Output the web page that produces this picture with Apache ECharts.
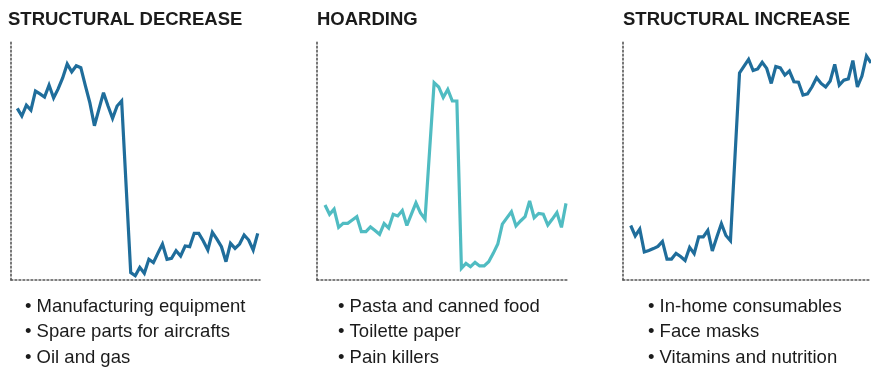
<!DOCTYPE html>
<html>
<head>
<meta charset="utf-8">
<script src="https://cdn.jsdelivr.net/npm/echarts@6/dist/echarts.min.js"></script>
<style>
html,body{margin:0;padding:0;background:#fff;}
#chart{width:871px;height:369px;}
</style>
</head>
<body>
<div id="chart"></div>
<script>
// Panel titles
var titles = ['STRUCTURAL DECREASE', 'HOARDING', 'STRUCTURAL INCREASE'];

// Bullet lists under each panel
var bulletsDecrease = ['Manufacturing equipment', 'Spare parts for aircrafts', 'Oil and gas'];
var bulletsHoarding = ['Pasta and canned food', 'Toilette paper', 'Pain killers'];
var bulletsIncrease = ['In-home consumables', 'Face masks', 'Vitamins and nutrition'];

// Demand index (0-100), weekly
var decreaseValues = [72.1, 68.9, 73.5, 71.4, 79.4, 78.2, 76.9, 81.9, 76.5, 80.3,
  84.9, 90.8, 87.5, 90.0, 89.2, 81.7, 74.4, 64.8, 71.8, 78.7,
  73.1, 67.9, 73.1, 75.2, 39.1, 3.1, 1.8, 5.3, 2.8, 8.7,
  7.3, 11.3, 15.1, 8.7, 9.1, 12.3, 10.1, 14.3, 14.0, 19.6,
  19.6, 16.4, 12.6, 20.0, 17.2, 14.0, 7.7, 15.4, 13.3, 15.1,
  18.9, 16.8, 12.6, 19.6];

var hoardingValues = [31.5, 27.6, 29.8, 22.1, 23.8, 23.8, 25.2, 26.6, 20.3, 20.3,
  22.3, 20.8, 19.2, 23.7, 21.8, 27.6, 26.9, 29.2, 22.9, 27.7,
  32.4, 28.2, 25.6, 54.3, 82.9, 81.1, 76.7, 80.1, 75.2, 75.2,
  4.9, 7.0, 5.6, 7.4, 5.9, 5.9, 7.7, 11.2, 15.1, 23.5,
  26.1, 28.7, 22.7, 24.8, 26.6, 33.2, 26.2, 28.0, 27.7, 23.1,
  25.6, 28.3, 22.1, 32.2];

var increaseValues = [22.9, 18.5, 21.4, 11.8, 12.4, 13.2, 14.1, 16.2, 8.8, 8.8,
  11.2, 9.9, 8.2, 13.7, 11.1, 18.1, 18.1, 20.8, 12.2, 18.1,
  23.7, 18.7, 16.5, 51.9, 87.0, 89.9, 92.7, 88.0, 88.7, 91.5,
  88.9, 82.6, 89.7, 89.1, 86.1, 87.8, 83.3, 83.1, 77.7, 78.2,
  81.2, 85.0, 82.6, 81.1, 83.6, 90.6, 81.9, 84.0, 84.5, 92.2,
  81.1, 85.7, 94.1, 91.2];

var BLUE = '#1f6d9b';
var TEAL = '#50bcc2';
var INK = '#1b1b1b';
var AXIS = '#555555';

function toPairs(arr) { return arr.map(function (v, i) { return [i, v]; }); }

var panels = [
  { values: decreaseValues, color: BLUE, left: 11, width: 249, xmin: -1.39, xmax: 53.5, titleX: 8, bulletX: 25, bullets: bulletsDecrease },
  { values: hoardingValues, color: TEAL, left: 317, width: 250, xmin: -1.76, xmax: 53.22, titleX: 317, bulletX: 338, bullets: bulletsHoarding },
  { values: increaseValues, color: BLUE, left: 623, width: 248.3, xmin: -1.7, xmax: 53, titleX: 623, bulletX: 648, bullets: bulletsIncrease }
];

var dotted = { color: AXIS, width: 1.6, type: [1.8, 2.2] };

var grid = [], xAxis = [], yAxis = [], series = [], graphic = [];
panels.forEach(function (p, k) {
  grid.push({ left: p.left, top: 42, width: p.width, height: 238 });
  xAxis.push({
    type: 'value', gridIndex: k, min: p.xmin, max: p.xmax,
    axisLine: { show: true, onZero: false, lineStyle: dotted },
    axisTick: { show: false }, axisLabel: { show: false }, splitLine: { show: false }
  });
  yAxis.push({
    type: 'value', gridIndex: k, min: 0, max: 100,
    axisLine: { show: true, onZero: false, lineStyle: dotted },
    axisTick: { show: false }, axisLabel: { show: false }, splitLine: { show: false }
  });
  series.push({
    type: 'line', xAxisIndex: k, yAxisIndex: k, data: toPairs(p.values),
    symbol: 'none', smooth: false,
    lineStyle: { color: p.color, width: 3.2, join: 'miter', miterLimit: 3 }
  });
  graphic.push({
    type: 'text', left: p.titleX, top: 10,
    style: { text: titles[k], font: 'bold 18.5px "Liberation Sans", Arial, sans-serif', fill: INK }
  });
  p.bullets.forEach(function (b, j) {
    graphic.push({
      type: 'text', left: p.bulletX, top: 297 + j * 25.5,
      style: { text: '\u2022 ' + b, font: '18.5px "Liberation Sans", Arial, sans-serif', fill: INK }
    });
  });
});

var chart = echarts.init(document.getElementById('chart'), null, { renderer: 'canvas' });
chart.setOption({
  animation: false,
  grid: grid, xAxis: xAxis, yAxis: yAxis, series: series, graphic: graphic
});
</script>
</body>
</html>
